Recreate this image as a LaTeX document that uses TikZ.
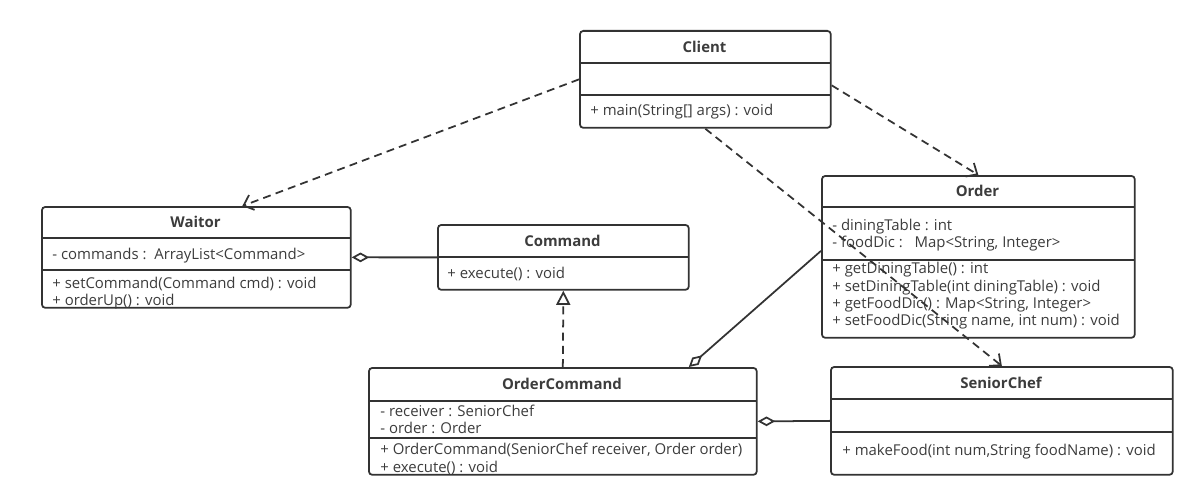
\documentclass[tikz,border=0pt]{standalone}
\usepackage{fontspec}
\setmainfont{Open Sans}
\usetikzlibrary{positioning,arrows.meta}
\definecolor{linegray}{HTML}{333333}
\definecolor{textgray}{HTML}{3C3C3C}
\newcommand\umlfont{\fontsize{8.5}{10}\selectfont}
\tikzset{
  uml/.style={line width=1pt, draw=linegray},
  classbox/.style={uml, rectangle, rounded corners=2pt, anchor=north west, inner sep=0pt},
  cname/.style={font=\umlfont\bfseries, text=textgray, inner sep=0pt},
  member/.style={font=\umlfont, text=textgray, anchor=west, inner sep=0pt},
  dep/.style={uml, dash pattern=on 4.5pt off 3pt, -{Straight Barb[length=5pt,width=9pt]}},
  realize/.style={uml, dash pattern=on 4.5pt off 3pt, -{Triangle[open,length=8pt,width=8pt]}},
  aggr/.style={uml, {Diamond[open,length=10pt,width=5.5pt]}-},
}

\begin{document}
\begin{tikzpicture}[x=0.02cm, y=-0.02cm]
\useasboundingbox (0,0) rectangle (1193,500);

% Client
\node[classbox, minimum width=5.02cm, minimum height=1.94cm] (client) at (579,30) {};
\node[cname] (clientname) at (704.5,47) {Client};
\draw[uml] (579,63) -- (830,63) (579,95) -- (830,95);
\node[member] (clientm1) at (590,112) {+ main(String[] args) : void};

% Waitor
\node[classbox, minimum width=6.18cm, minimum height=2.02cm] (waitor) at (41,206) {};
\node[cname] (waitorname) at (195.5,222) {Waitor};
\draw[uml] (41,238) -- (350,238) (41,270) -- (350,270);
\node[member] (waitora1) at (52,256) {- commands :\ \ ArrayList<Command>};
\node[member] (waitorm1) at (52,284) {+ setCommand(Command cmd) : void};
\node[member] (waitorm2) at (52,302) {+ orderUp() : void};

% Command
\node[classbox, minimum width=5.02cm, minimum height=1.30cm] (command) at (437,224) {};
\node[cname] (commandname) at (562.5,241) {Command};
\draw[uml] (437,257) -- (688,257);
\node[member] (commandm1) at (447,274) {+ execute() : void};

% Order
\node[classbox, minimum width=6.26cm, minimum height=3.24cm] (order) at (821,175) {};
\node[cname] (ordername) at (977.5,191) {Order};
\draw[uml] (821,207) -- (1134,207) (821,260) -- (1134,260);
\node[member] (ordera1) at (832,227) {- diningTable : int};
\node[member] (ordera2) at (832,244) {- foodDic :\ \ \ Map<String, Integer>};
\node[member] (orderm1) at (832,270) {+ getDiningTable() : int};
\node[member] (orderm2) at (832,288) {+ setDiningTable(int diningTable) : void};
\node[member] (orderm3) at (832,305) {+ getFoodDic() : Map<String, Integer>};
\node[member] (orderm4) at (832,322) {+ setFoodDic(String name, int num) : void};

% OrderCommand
\node[classbox, minimum width=7.76cm, minimum height=2.14cm] (ordercmd) at (368,367) {};
\node[cname] (ordercmdname) at (562,384) {OrderCommand};
\draw[uml] (368,401) -- (756,401) (368,438) -- (756,438);
\node[member] (ordercmda1) at (380,411) {- receiver : SeniorChef};
\node[member] (ordercmda2) at (380,428) {- order : Order};
\node[member] (ordercmdm1) at (380,450) {+ OrderCommand(SeniorChef receiver, Order order)};
\node[member] (ordercmdm2) at (380,468) {+ execute() : void};

% SeniorChef
\node[classbox, minimum width=6.84cm, minimum height=2.16cm] (chef) at (830,366) {};
\node[cname] (chefname) at (1001,383) {SeniorChef};
\draw[uml] (830,399) -- (1172,399) (830,432) -- (1172,432);
\node[member] (chefm1) at (842,452) {+ makeFood(int num,String foodName) : void};

% relations
\draw[dep] (client.west) -- ([xshift=0.92cm]waitor.north);
\draw[dep] ([yshift=-0.12cm]client.east) -- (order.north);
\draw[dep] (client.south) -- (chef.north);
\draw[realize] (ordercmd.north) -- (command.south);
\draw[aggr] (waitor.east) -- (command.west);
\draw[aggr] ([xshift=2.52cm]ordercmd.north) -- ([yshift=0.12cm]order.west);
\draw[aggr] (ordercmd.east) -- (chef.west);
\end{tikzpicture}
\end{document}
